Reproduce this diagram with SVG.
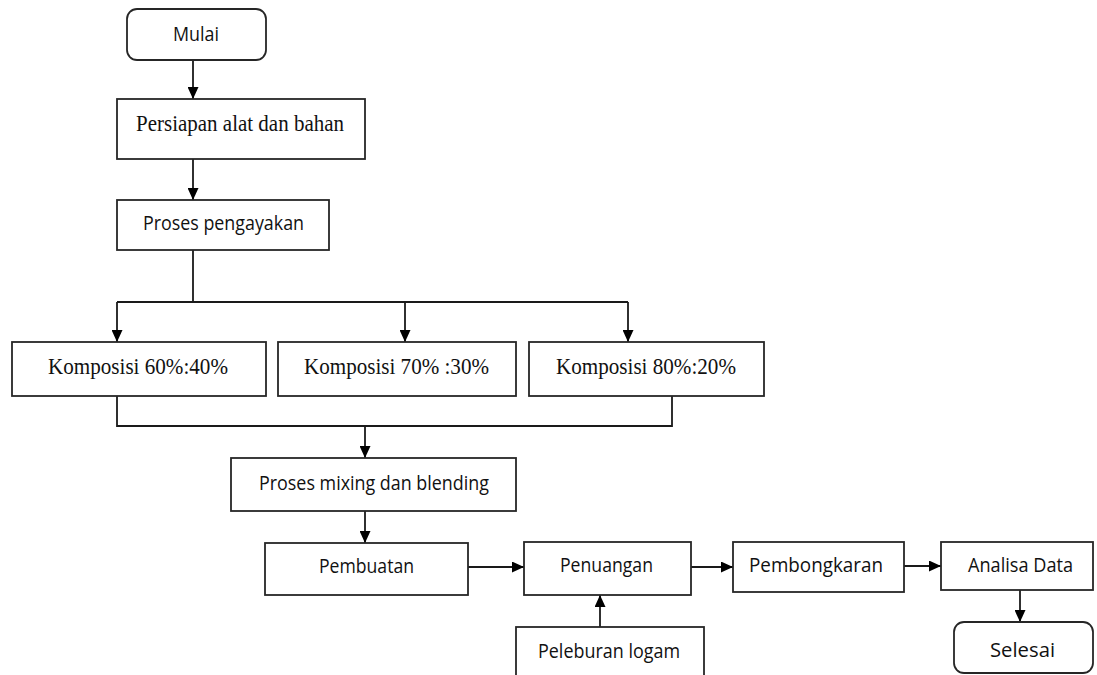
<svg xmlns="http://www.w3.org/2000/svg" width="1097" height="675" viewBox="0 0 1097 675">
<style>
.box{fill:#fff;stroke:#262626;stroke-width:1.8}
.ln{fill:none;stroke:#1a1a1a;stroke-width:1.8}
.sans{font-family:"Open Sans","Liberation Sans",sans-serif;font-size:20px;fill:#111;text-anchor:middle}
.serif{font-family:"Liberation Serif","Times New Roman",serif;font-size:22.5px;fill:#111;text-anchor:middle}
</style>
<defs>
<marker id="arr" markerUnits="userSpaceOnUse" markerWidth="12" markerHeight="11" refX="12" refY="5.5" orient="auto">
<path d="M0,0 L12,5.5 L0,11 z" fill="#000"/>
</marker>
</defs>
<rect width="1097" height="675" fill="#fff"/>
<g id="connectors">
<path class="ln" d="M193,60 V99" marker-end="url(#arr)"/>
<path class="ln" d="M193,159 V200" marker-end="url(#arr)"/>
<path class="ln" d="M193,250 V302 M117,302 H628"/>
<path class="ln" d="M117,302 V342" marker-end="url(#arr)"/>
<path class="ln" d="M405,302 V342" marker-end="url(#arr)"/>
<path class="ln" d="M628,302 V342" marker-end="url(#arr)"/>
<path class="ln" d="M117,396 V426 H672 V396"/>
<path class="ln" d="M365,426 V458" marker-end="url(#arr)"/>
<path class="ln" d="M365,511 V543" marker-end="url(#arr)"/>
<path class="ln" d="M468,567 H524" marker-end="url(#arr)"/>
<path class="ln" d="M600,627 V595" marker-end="url(#arr)"/>
<path class="ln" d="M691,567 H733" marker-end="url(#arr)"/>
<path class="ln" d="M904,566 H941" marker-end="url(#arr)"/>
<path class="ln" d="M1020,590 V622" marker-end="url(#arr)"/>
</g>
<g id="mulai"><rect class="box" x="127" y="9" width="139" height="51" rx="10"/><text class="sans" x="196" y="41" textLength="46" lengthAdjust="spacingAndGlyphs">Mulai</text></g>
<g id="persiapan"><rect class="box" x="117" y="99" width="248" height="60"/><text class="serif" x="240" y="131" textLength="208" lengthAdjust="spacingAndGlyphs">Persiapan alat dan bahan</text></g>
<g id="pengayakan"><rect class="box" x="117" y="200" width="212" height="50"/><text class="sans" x="223.5" y="230" textLength="161" lengthAdjust="spacingAndGlyphs">Proses pengayakan</text></g>
<g id="komposisi1"><rect class="box" x="12" y="342" width="254" height="54"/><text class="serif" x="138" y="374" textLength="180" lengthAdjust="spacingAndGlyphs">Komposisi 60%:40%</text></g>
<g id="komposisi2"><rect class="box" x="278" y="342" width="238" height="54"/><text class="serif" x="396.5" y="374" textLength="185" lengthAdjust="spacingAndGlyphs">Komposisi 70% :30%</text></g>
<g id="komposisi3"><rect class="box" x="529" y="342" width="235" height="54"/><text class="serif" x="646" y="374" textLength="180" lengthAdjust="spacingAndGlyphs">Komposisi 80%:20%</text></g>
<g id="mixing"><rect class="box" x="231" y="458" width="285" height="53"/><text class="sans" x="374" y="490" textLength="230" lengthAdjust="spacingAndGlyphs">Proses mixing  dan blending</text></g>
<g id="pembuatan"><rect class="box" x="265" y="543" width="203" height="52"/><text class="sans" x="366.5" y="573" textLength="95" lengthAdjust="spacingAndGlyphs">Pembuatan</text></g>
<g id="penuangan"><rect class="box" x="524" y="542" width="167" height="53"/><text class="sans" x="606.5" y="572" textLength="93" lengthAdjust="spacingAndGlyphs">Penuangan</text></g>
<g id="peleburan"><rect class="box" x="516" y="627" width="188" height="60"/><text class="sans" x="609" y="658" textLength="142" lengthAdjust="spacingAndGlyphs">Peleburan logam</text></g>
<g id="pembongkaran"><rect class="box" x="733" y="542" width="171" height="50"/><text class="sans" x="816" y="572" textLength="134" lengthAdjust="spacingAndGlyphs">Pembongkaran</text></g>
<g id="analisa"><rect class="box" x="941" y="542" width="152" height="48"/><text class="sans" x="1020.5" y="572" textLength="105" lengthAdjust="spacingAndGlyphs">Analisa Data</text></g>
<g id="selesai"><rect class="box" x="954" y="622" width="139" height="51" rx="10"/><text class="sans" x="1022.5" y="657" textLength="65" lengthAdjust="spacingAndGlyphs">Selesai</text></g>
</svg>
